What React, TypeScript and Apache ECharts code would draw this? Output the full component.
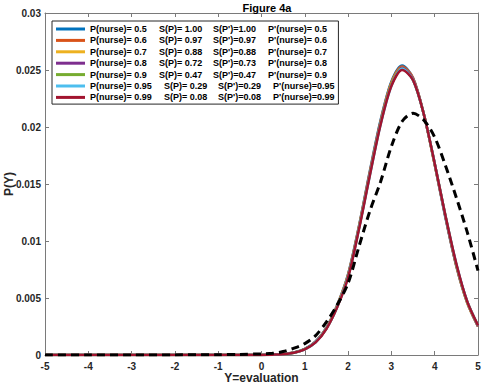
import React, { useEffect, useRef } from "react";
import * as echarts from "echarts";

const XS = [-5, -4, -3, -2, -1, -0.5, 0, 0.25, 0.5, 0.75, 1, 1.25, 1.5, 1.75, 2, 2.25, 2.5, 2.75, 3, 3.25, 3.5, 3.75, 4, 4.25, 4.5, 4.75, 5];

const P_NURSE = ["0.5", "0.6", "0.7", "0.8", "0.9", "0.95", "0.99"];
const S_P = ["1.00", "0.97", "0.88", "0.72", "0.47", "0.29", "0.08"];
const S_PP = ["1.00", "0.97", "0.88", "0.73", "0.47", "0.29", "0.08"];
const PP_NURSE = ["0.5", "0.6", "0.7", "0.8", "0.9", "0.95", "0.99"];
const COLORS = ["#0072BD", "#D95319", "#EDB120", "#7E2F8E", "#77AC30", "#4DBEEE", "#A2142F"];

const Y_BLUE = [0, 0, 0, 0, 0, 0, 0.00001, 0.00003, 0.00008, 0.00022, 0.00053, 0.0012, 0.0024, 0.0044, 0.0071, 0.0113, 0.0161, 0.0206, 0.024, 0.0254, 0.0243, 0.0211, 0.0167, 0.012, 0.0078, 0.0046, 0.0025];
const Y_ORANGE = [0, 0, 0, 0, 0, 0, 0.00001, 0.00003, 0.00008, 0.00022, 0.00052, 0.00118, 0.00238, 0.00436, 0.00705, 0.01125, 0.0160, 0.0205, 0.0239, 0.0253, 0.0243, 0.0211, 0.0167, 0.0121, 0.0078, 0.0046, 0.0025];
const Y_YELLOW = [0, 0, 0, 0, 0, 0, 0.00001, 0.00003, 0.00007, 0.00021, 0.00052, 0.00116, 0.00236, 0.00432, 0.007, 0.0112, 0.0159, 0.0204, 0.0238, 0.0252, 0.0242, 0.0211, 0.0167, 0.0121, 0.0079, 0.0046, 0.00255];
const Y_PURPLE = [0, 0, 0, 0, 0, 0, 0.00001, 0.00003, 0.00007, 0.00021, 0.00051, 0.00115, 0.00234, 0.00428, 0.00695, 0.01115, 0.0159, 0.0204, 0.0237, 0.0252, 0.0242, 0.0211, 0.0168, 0.0121, 0.0079, 0.0047, 0.00255];
const Y_GREEN = [0, 0, 0, 0, 0, 0, 0.00001, 0.00003, 0.00007, 0.0002, 0.00051, 0.00113, 0.00232, 0.00425, 0.0069, 0.0111, 0.0158, 0.0203, 0.0237, 0.0251, 0.0241, 0.0211, 0.0168, 0.0122, 0.0079, 0.0047, 0.0026];
const Y_CYAN = [0, 0, 0, 0, 0, 0, 0.00001, 0.00003, 0.00007, 0.0002, 0.0005, 0.00112, 0.00231, 0.00422, 0.00685, 0.01105, 0.0157, 0.0202, 0.0236, 0.0251, 0.0241, 0.0211, 0.0168, 0.0122, 0.008, 0.0047, 0.0026];
const Y_RED = [0, 0, 0, 0, 0, 0, 0.00001, 0.00003, 0.00007, 0.0002, 0.0005, 0.0011, 0.0023, 0.0042, 0.0068, 0.011, 0.0157, 0.0202, 0.0236, 0.025, 0.0241, 0.0211, 0.0168, 0.0122, 0.008, 0.0047, 0.0026];
const CURVES = [Y_BLUE, Y_ORANGE, Y_YELLOW, Y_PURPLE, Y_GREEN, Y_CYAN, Y_RED];

const Y_DASHED = [0, 0, 0, 0.00001, 0.00003, 0.00005, 0.0001, 0.00015, 0.0003, 0.0006, 0.001, 0.0017, 0.0029, 0.0044, 0.0063, 0.0095, 0.0126, 0.0152, 0.0183, 0.0205, 0.0212, 0.0206, 0.0191, 0.0166, 0.0138, 0.0108, 0.0074];

const X_TICKS_MIN = -5;
const X_TICKS_MAX = 5;
const Y_MAX = 0.03;

export default function App() {
  const ref = useRef<HTMLDivElement>(null);
  useEffect(() => {
    if (!ref.current) return;
    const chart = echarts.init(ref.current, undefined, { renderer: "svg" });
    const names = P_NURSE.map((p) => `P(nurse)= ${p}`);
    const richMap: Record<string, string> = {};
    names.forEach((n, i) => {
      const wide = P_NURSE[i].length > 3;
      const c4 = wide ? `P'(nurse)=${PP_NURSE[i]}` : `P'(nurse)= ${PP_NURSE[i]}`;
      richMap[n] = `{${wide ? "a2" : "a"}|${n}}{b|S(P)= ${S_P[i]}}{c|S(P')=${S_PP[i]}}{${wide ? "d2" : "d"}|${c4}}`;
    });
    const txt = { fontSize: 9, fontWeight: "bold" as const, color: "#000", fontFamily: "Liberation Sans, Arial, sans-serif", lineHeight: 11.4 };
    const series: any[] = CURVES.map((ys, i) => ({
      name: names[i],
      type: "line",
      data: XS.map((x, j) => [x, ys[j]]),
      showSymbol: false,
      symbol: "none",
      smooth: 0.3,
      lineStyle: { color: COLORS[i], width: 2.5 },
      itemStyle: { color: COLORS[i] },
      z: 2 + i,
    }));
    series.push({
      name: "dashed",
      type: "line",
      data: XS.map((x, j) => [x, Y_DASHED[j]]),
      showSymbol: false,
      symbol: "none",
      smooth: 0.3,
      lineStyle: { color: "#000", width: 3, type: [8, 5] },
      z: 20,
    });
    const axisCommon = {
      axisLine: { show: true, onZero: false, lineStyle: { color: "#7a7a7a", width: 1 } },
      axisTick: { show: true, inside: true, length: 4, lineStyle: { color: "#7a7a7a" } },
      splitLine: { show: false },
    };
    const labelStyle = { fontSize: 10, fontWeight: "bold" as const, color: "#262626", fontFamily: "Liberation Sans, Arial, sans-serif" };
    chart.setOption({
      animation: false,
      title: {
        text: "Figure 4a",
        left: 262,
        top: -3,
        textAlign: "center",
        textStyle: { fontSize: 11, fontWeight: "bold", color: "#000", fontFamily: "Liberation Sans, Arial, sans-serif" },
      },
      grid: { left: 45, right: 4, top: 13, bottom: 30, containLabel: false, outerBoundsMode: "none" },
      legend: {
        data: names,
        orient: "vertical",
        left: 52,
        top: 21,
        icon: "rect",
        itemWidth: 29,
        itemHeight: 3,
        itemGap: 0,
        padding: [2.3, 4, 1, 4],
        borderColor: "#262626",
        borderWidth: 1,
        backgroundColor: "#fff",
        formatter: (n: string) => richMap[n],
        textStyle: {
          ...txt,
          rich: {
            a: { ...txt, width: 69 },
            a2: { ...txt, width: 74 },
            b: { ...txt, width: 54 },
            c: { ...txt, width: 55 },
            d: { ...txt, width: 65 },
            d2: { ...txt, width: 60 },
          },
        },
      },
      xAxis: [
        {
          type: "value",
          min: X_TICKS_MIN,
          max: X_TICKS_MAX,
          interval: 1,
          position: "bottom",
          name: "Y=evaluation",
          nameLocation: "middle",
          nameGap: 17,
          nameMoveOverlap: false,
          nameTextStyle: { fontSize: 12, fontWeight: "bold", color: "#262626", fontFamily: "Liberation Sans, Arial, sans-serif" },
          axisLabel: { ...labelStyle, margin: 6 },
          ...axisCommon,
        },
        {
          type: "value",
          min: X_TICKS_MIN,
          max: X_TICKS_MAX,
          interval: 1,
          position: "top",
          axisLabel: { show: false },
          ...axisCommon,
        },
      ],
      yAxis: [
        {
          type: "value",
          min: 0,
          max: Y_MAX,
          interval: 0.005,
          position: "left",
          name: "P(Y)",
          nameLocation: "middle",
          nameGap: 30,
          nameMoveOverlap: false,
          nameTextStyle: { fontSize: 12, fontWeight: "bold", color: "#262626", fontFamily: "Liberation Sans, Arial, sans-serif" },
          axisLabel: { ...labelStyle, margin: 4, formatter: (v: number) => String(+v.toFixed(3)) },
          ...axisCommon,
        },
        {
          type: "value",
          min: 0,
          max: Y_MAX,
          interval: 0.005,
          position: "right",
          axisLabel: { show: false },
          ...axisCommon,
        },
      ],
      series,
    });
    return () => chart.dispose();
  }, []);
  return <div ref={ref} style={{ position: "fixed", left: 0, top: 0, width: 482, height: 385, background: "#fff" }} />;
}
